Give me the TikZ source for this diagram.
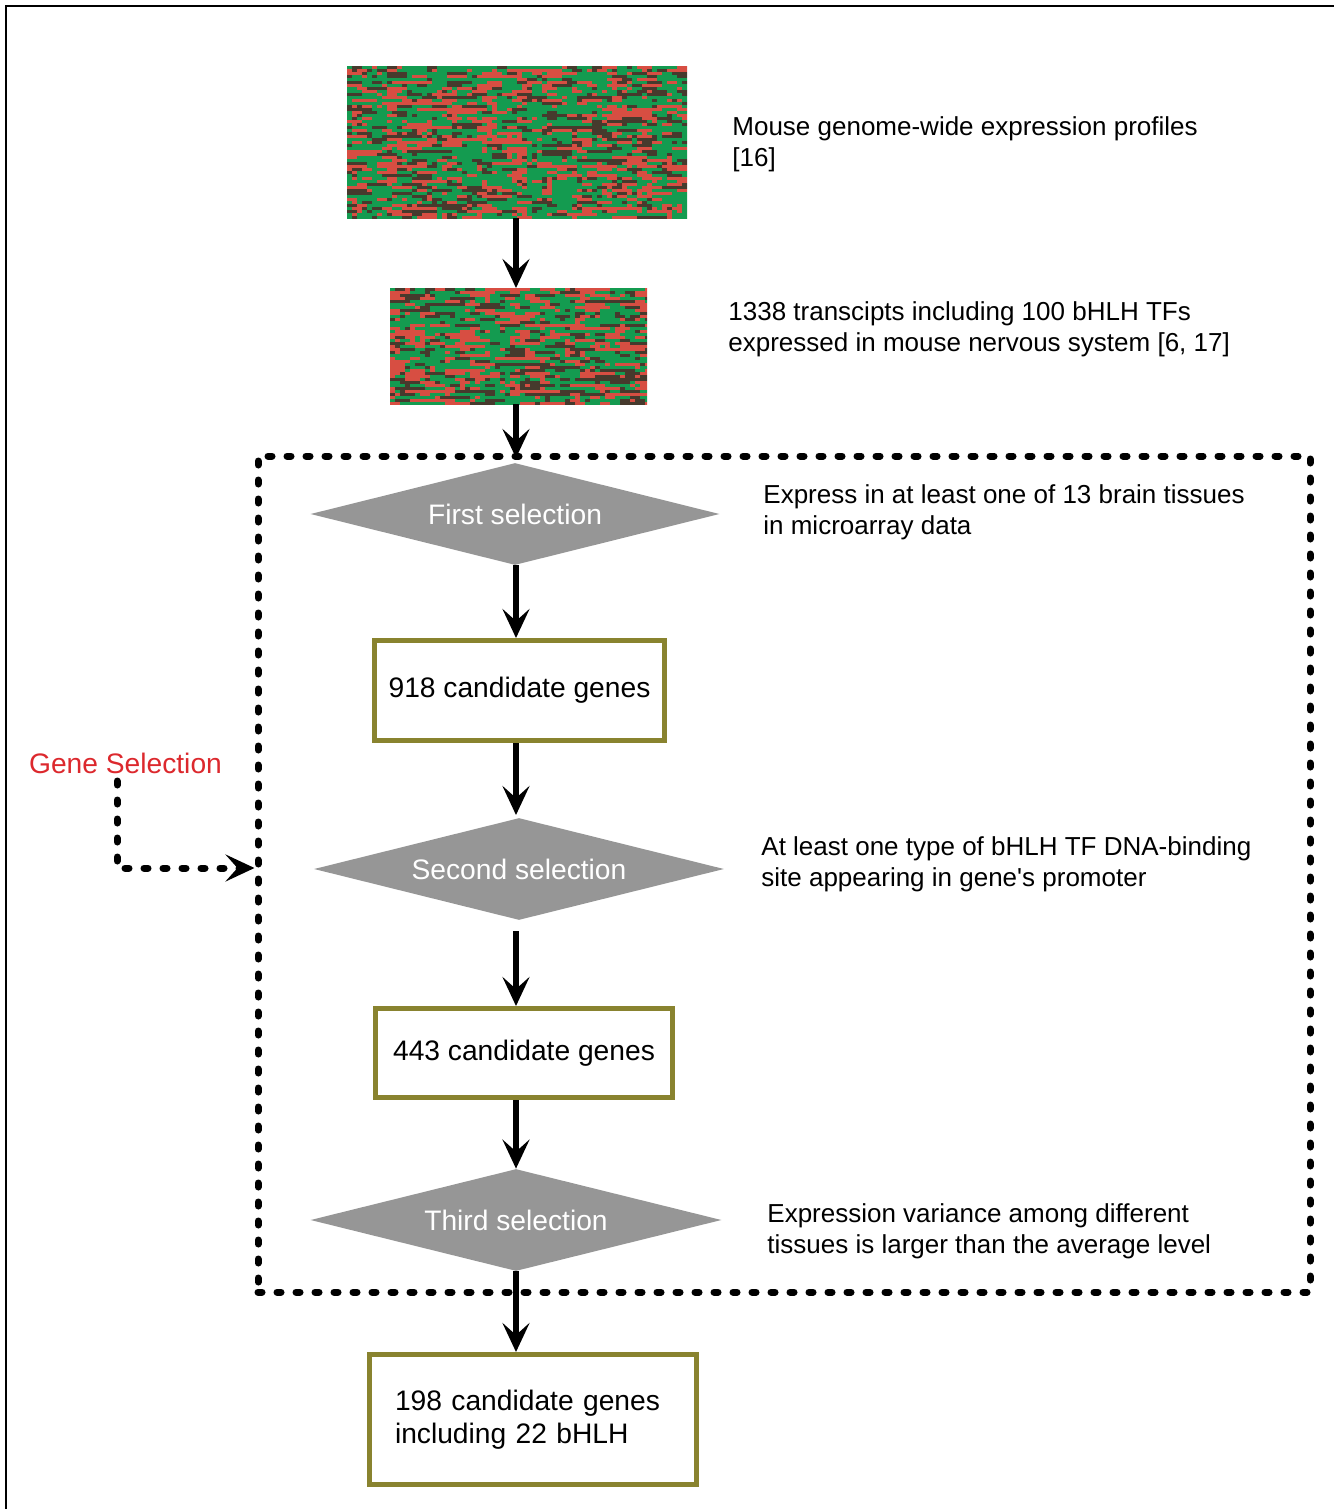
\documentclass[tikz,border=0pt]{standalone}
\usepackage{fontspec}
\setmainfont{Liberation Sans}
\usetikzlibrary{shapes.geometric,arrows.meta}

\definecolor{boxolive}{RGB}{137,131,47}
\definecolor{selgrey}{RGB}{150,150,150}
\definecolor{gsred}{RGB}{220,40,45}
\definecolor{hm0}{RGB}{70,58,45}
\definecolor{hm1}{RGB}{20,155,80}
\definecolor{hm2}{RGB}{215,78,66}
\newcommand\straightq{\XeTeXglyph\XeTeXcharglyph"0027\relax}
\gdef\prevk{1}

\begin{document}
\begin{tikzpicture}[x=0.5pt,y=-0.5pt,
	flow/.style={line width=3pt, -{Stealth[length=14.5pt,width=13.5pt,inset=6pt]}},
	dots/.style={line width=3.5pt, line cap=round, dash pattern=on 2pt off 7.5pt},
	selstep/.style={shape=diamond, fill=selgrey, text=white, inner sep=0pt, aspect=4, font=\fontsize{14.1}{17}\selectfont},
	genebox/.style={shape=rectangle, draw=boxolive, line width=2.5pt, fill=white, inner sep=0pt, font=\fontsize{14.1}{16.5}\selectfont},
	note/.style={anchor=west, inner sep=0pt, align=left, font=\fontsize{13}{15.5}\selectfont}]
	\useasboundingbox (0,0) rectangle (1334,1509);
	\draw[line width=0.8pt] (6,1509) -- (6,6) -- (1334,6);
	
	% heat maps
	\pgfmathsetseed{11}
	\begin{scope}
		\clip (347,66) rectangle (687,218);
		\foreach \j in {0,...,50}{
			\foreach \i in {0,...,67}{
				\pgfmathtruncatemacro\k{rnd<0.45 ? \prevk : (rnd<0.2 ? 0 : (rnd+0.35*sin(\i*97)*cos(\i*41)<0.6 ? 1 : 2))}
				\global\let\prevk\k
				\fill[hm\k] (347+\i*5,66+\j*3) rectangle ++(5.6,3.4);
			}
		}
	\end{scope}
	\begin{scope}
		\clip (390,288) rectangle (647,404);
		\foreach \j in {0,...,38}{
			\foreach \i in {0,...,51}{
				\pgfmathtruncatemacro\k{rnd<0.45 ? \prevk : (rnd<0.24 ? 0 : (rnd+0.35*sin(\i*83)*cos(\i*53)<0.6 ? 1 : 2))}
				\global\let\prevk\k
				\fill[hm\k] (390+\i*5,288+\j*3) rectangle ++(5.6,3.4);
			}
		}
	\end{scope}
	\node[minimum width=170pt, minimum height=76pt, inner sep=0pt] (hmall) at (517,142) {};
	\node[minimum width=128.5pt, minimum height=58pt, inner sep=0pt] (hmsub) at (518.5,346) {};
	
	% selection frame
	\node[draw, dots, minimum width=526pt, minimum height=418pt] (sel) at (784,874) {};
	
	\node[selstep, minimum width=204.5pt, minimum height=51pt] (first) at (515,514) {First selection};
	\node[selstep, minimum width=205pt, minimum height=51pt] (second) at (519,869) {Second selection};
	\node[selstep, minimum width=205.5pt, minimum height=51pt] (third) at (516,1220) {Third selection};
	
	\node[genebox, minimum width=145pt, minimum height=50pt] (c918) at (519.5,690.5) {918 candidate genes};
	\node[genebox, minimum width=148.5pt, minimum height=44.5pt] (c443) at (524,1053) {443 candidate genes};
	\node[genebox, minimum width=163.5pt, minimum height=65pt, text width=138pt, align=left] (c198) at (533,1419.5) {198 candidate genes\\including 22 bHLH};
	
	\node[note] (nall) at (732,144.5) {Mouse genome-wide expression profiles\\{[16]}};
	\node[note] (nsub) at (728,329.5) {1338 transcipts including 100 bHLH TFs\\expressed in mouse nervous system [6, 17]};
	\node[note] (nfirst) at (763,512) {Express in at least one of 13 brain tissues\\in microarray data};
	\node[note] (nsecond) at (761,864.5) {At least one type of bHLH TF DNA-binding\\site appearing in gene\straightq s promoter};
	\node[note] (nthird) at (767,1231.5) {Expression variance among different\\tissues is larger than the average level};
	
	\node[text=gsred, inner sep=0pt, font=\fontsize{14.1}{17}\selectfont] (gs) at (125.5,763) {Gene Selection};
	\coordinate (gsstart) at (117,781);
	
	\draw[flow] (hmall.south -| 516,0) -- (516,288);
	\draw[flow] (516,404) -- (516,458);
	\draw[flow] (first.south -| 516,0) -- (c918.north -| 516,0);
	\draw[flow] (c918.south -| 516,0) -- (516,815);
	\draw[flow] (516,931) -- (c443.north -| 516,0);
	\draw[flow] (c443.south -| 516,0) -- (third.north -| 516,0);
	\draw[flow] (third.south -| 516,0) -- (c198.north -| 516,0);
	\draw[dots, -{Stealth[length=14.5pt,width=13.5pt,inset=6pt,line cap=butt]}] (gsstart) |- ([yshift=3pt]sel.west);
\end{tikzpicture}
\end{document}
